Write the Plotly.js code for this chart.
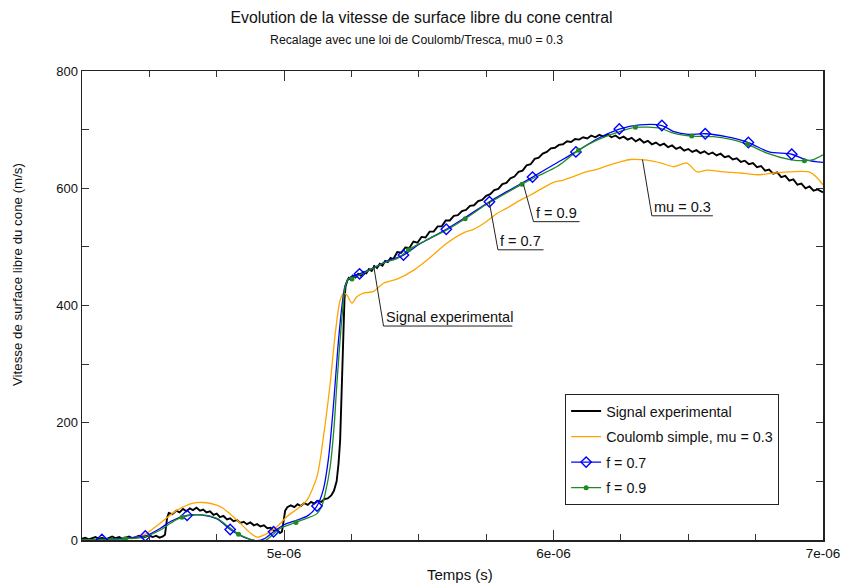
<!DOCTYPE html>
<html>
<head>
<meta charset="utf-8">
<script src="https://cdn.plot.ly/plotly-3.0.1.min.js"></script>
<style>html,body{margin:0;padding:0;background:#fff;}#chart{width:843px;height:584px;}</style>
</head>
<body>
<div id="chart"></div>
<script>
// ---------- DATA (time in microseconds, velocity in m/s) ----------
const exp_t_us = [4.250,4.262,4.275,4.288,4.300,4.312,4.325,4.338,4.350,4.362,4.375,4.388,4.400,4.412,4.425,4.438,4.450,4.462,4.475,4.488,4.500,4.512,4.525,4.538,4.550,
  4.558,4.562,4.566,4.572,4.585,
  4.600,4.612,4.625,4.638,4.650,4.662,4.675,4.688,4.700,4.712,4.725,4.738,4.750,4.762,4.775,4.788,4.800,4.812,4.825,4.838,4.850,4.862,4.875,4.888,4.900,4.912,4.925,4.938,4.950,4.962,4.975,
  4.985,4.992,4.998,5.004,5.012,
  5.025,5.038,5.050,5.062,5.075,5.088,5.100,5.112,5.125,5.138,5.150,5.162,5.175,
  5.185,5.195,5.202,5.208,5.212,5.216,5.220,5.224,5.228,5.234,5.240,5.246,
  5.255,5.265,5.275,5.285,5.295,5.305,5.315,5.325,5.335,5.345,5.355,5.365,5.375,5.385,5.395,5.405,
  5.420,5.435,5.450,5.465,5.480,5.495,5.510,5.525,5.540,5.555,
  5.570,5.585,5.600,5.615,5.630,5.645,5.660,5.675,5.690,5.705,
  5.720,5.735,5.750,5.765,5.780,5.795,5.810,5.825,5.840,5.855,
  5.870,5.885,5.900,5.915,5.930,5.945,5.960,5.975,5.990,6.005,
  6.020,6.035,6.050,6.065,6.080,6.095,6.110,6.125,6.140,6.155,
  6.170,6.185,6.200,6.215,6.230,6.245,6.260,6.275,6.290,6.305,
  6.320,6.335,6.350,6.365,6.380,6.395,6.410,6.425,6.440,6.455,
  6.470,6.485,6.500,6.515,6.530,6.545,6.560,6.575,6.590,6.605,
  6.620,6.635,6.650,6.665,6.680,6.695,6.710,6.725,6.740,6.755,
  6.770,6.785,6.800,6.815,6.830,6.845,6.860,6.875,6.890,6.905,
  6.920,6.935,6.950,6.965,6.980,7.000];
const exp_v = [2,4,1,3,5,2,4,1,3,6,3,5,2,4,6,3,5,7,4,6,8,5,7,4,6,
  9,22,38,46,44,
  50,47,53,49,54,51,55,50,52,47,49,43,45,39,41,35,37,32,34,29,31,27,30,25,27,23,25,20,21,16,17,
  12,14,30,50,56,
  59,56,61,58,63,60,65,62,67,65,70,71,76,
  84,100,130,170,230,300,370,410,432,442,447,445,
  451,448,454,451,457,455,462,459,467,464,471,468,476,474,481,479,
  491,490,499,498,509,507,517,516,526,526,
  535,535,545,545,553,554,561,563,570,571,
  578,580,587,590,597,599,607,609,617,620,
  628,630,639,641,650,652,659,662,668,669,
  674,675,680,679,684,683,687,685,690,687,
  691,688,692,687,690,685,688,683,686,680,
  684,678,681,675,678,673,676,670,673,667,
  670,664,667,662,665,660,663,658,661,656,
  659,653,655,649,651,645,647,641,643,636,
  638,630,632,625,627,619,621,613,615,606,
  608,600,603,596,598,593];

const mu_t_us = [4.25,4.35,4.417,4.477,4.541,4.603,4.663,4.70,4.763,4.825,4.875,4.90,4.936,4.974,5.011,5.06,5.085,5.122,5.146,5.171,5.19,5.208,5.221,5.233,5.252,5.27,5.295,5.332,5.369,5.419,5.48,5.542,5.60,5.666,5.703,5.75,5.79,5.827,5.87,5.913,5.951,6.0,6.037,6.074,6.12,6.161,6.198,6.248,6.285,6.346,6.40,6.445,6.495,6.532,6.569,6.63,6.693,6.755,6.82,6.878,6.953,7.0];
const mu_v = [0,1,3,8,29,51,63,64,57,34,12,5,11,23,40,57,68,108,176,267,353,409,421,418,404,415,421,424,438,445,460,482,505,524,530,543,557,566,578,588,598,610,614,620,628,632,638,645,649,648,643,637,643,628,631,628,626,623,626,628,627,606];

const f07_t_us = [4.25,4.324,4.411,4.485,4.541,4.58,4.64,4.689,4.751,4.80,4.85,4.90,4.93,4.961,5.00,5.048,5.09,5.122,5.145,5.165,5.185,5.20,5.215,5.227,5.245,5.28,5.34,5.382,5.443,5.50,5.53,5.602,5.672,5.762,5.83,5.922,6.00,6.083,6.161,6.244,6.32,6.402,6.45,6.50,6.563,6.64,6.723,6.80,6.884,6.94,7.0];
const f07_v = [0,1,3,7,20,32,42,43,36,18,5,-1,3,14,26,34,42,58,85,140,240,330,400,435,448,454,466,476,486,504,512,530,550,577,595,619,640,662,684,701,708,707,696,692,693,688,678,662,658,648,644];
const f07_mark_t_us = [4.324,4.485,4.640,4.800,4.961,5.122,5.280,5.443,5.602,5.762,5.922,6.083,6.244,6.402,6.563,6.723,6.884];
const f07_mark_v = [1,7,42,18,14,58,454,486,530,577,619,662,701,707,693,678,658];

const f09_t_us = [4.25,4.33,4.411,4.479,4.541,4.58,4.621,4.689,4.751,4.79,4.831,4.87,4.90,4.93,4.96,4.986,5.048,5.09,5.122,5.14,5.153,5.171,5.185,5.196,5.215,5.227,5.239,5.252,5.27,5.295,5.34,5.382,5.419,5.462,5.50,5.53,5.604,5.672,5.746,5.814,5.883,5.938,6.013,6.093,6.161,6.248,6.304,6.397,6.445,6.513,6.594,6.663,6.72,6.792,6.878,6.931,6.965,7.0];
const f09_v = [0,1,2,5,17,29,39,43,37,24,10,2,-2,-1,10,20,31,38,45,58,80,125,190,267,381,432,446,447,450,455,466,475,480,495,505,512,529,548,571,589,607,620,637,665,682,697,704,702,694,689,688,683,675,660,649,647,649,657];
const f09_mark_t_us = [4.411,4.621,4.831,5.044,5.252,5.462,5.672,5.883,6.093,6.304,6.513,6.720,6.931];
const f09_mark_v = [2,39,10,30,445,495,548,607,665,704,689,675,647];

const seriesNames = ['Signal experimental', 'Coulomb simple, mu = 0.3', 'f = 0.7', 'f = 0.9'];
const xTickVals = [5e-6, 6e-6, 7e-6];
const xTickText = ['5e-06', '6e-06', '7e-06'];
const yTickVals = [0, 200, 400, 600, 800];

// ---------- helpers ----------
const s = arr => arr.map(t => t * 1e-6); // microseconds -> seconds

const C_BLACK = '#000000', C_ORANGE = '#FFA500', C_BLUE = '#0000FF', C_GREEN = '#1E8B22';

const traces = [
  {x: s(exp_t_us), y: exp_v, mode: 'lines', name: seriesNames[0], legendgroup: 'g1',
   line: {color: C_BLACK, width: 1.9}},
  {x: s(mu_t_us), y: mu_v, mode: 'lines', name: seriesNames[1], legendgroup: 'g2',
   line: {color: C_ORANGE, width: 1.3, shape: 'spline', smoothing: 0.8}},
  {x: s(f07_t_us), y: f07_v, mode: 'lines', name: seriesNames[2], legendgroup: 'g3', showlegend: false,
   line: {color: C_BLUE, width: 1.3, shape: 'spline', smoothing: 0.8}},
  {x: s(f09_t_us), y: f09_v, mode: 'lines', name: seriesNames[3], legendgroup: 'g4', showlegend: false,
   line: {color: C_GREEN, width: 1.3, shape: 'spline', smoothing: 0.8}},
  {x: s(f07_mark_t_us), y: f07_mark_v, mode: 'markers', name: seriesNames[2], legendgroup: 'g3', showlegend: false,
   marker: {symbol: 'diamond-open', size: 8, color: C_BLUE, line: {width: 1.4, color: C_BLUE}}},
  {x: s(f09_mark_t_us), y: f09_mark_v, mode: 'markers', name: seriesNames[3], legendgroup: 'g4', showlegend: false,
   marker: {symbol: 'circle', size: 5, color: C_GREEN}},
  {x: [null], y: [null], mode: 'lines+markers', name: seriesNames[2], legendgroup: 'g3',
   line: {color: C_BLUE, width: 1.3}, marker: {symbol: 'diamond-open', size: 8, color: C_BLUE, line: {width: 1.4, color: C_BLUE}}},
  {x: [null], y: [null], mode: 'lines+markers', name: seriesNames[3], legendgroup: 'g4',
   line: {color: C_GREEN, width: 1.3}, marker: {symbol: 'circle', size: 5, color: C_GREEN}}
];

// leader-line labels (positions in axis units)
const labels = [
  {text: 'Signal experimental', p0: [5.332e-6, 469], p1: [5.369e-6, 365], p2: [5.847e-6, 365]},
  {text: 'f = 0.7', p0: [5.7613e-6, 577], p1: [5.7936e-6, 495], p2: [5.9628e-6, 495]},
  {text: 'f = 0.9', p0: [5.8886e-6, 606], p1: [5.9257e-6, 543], p2: [6.0964e-6, 543]},
  {text: 'mu = 0.3', p0: [6.330e-6, 649], p1: [6.365e-6, 553], p2: [6.5914e-6, 553]}
];
const shapes = [];
const annotations = [];
labels.forEach(l => {
  shapes.push({type: 'line', xref: 'x', yref: 'y', x0: l.p0[0], y0: l.p0[1], x1: l.p1[0], y1: l.p1[1], line: {color: '#222', width: 1}});
  shapes.push({type: 'line', xref: 'x', yref: 'y', x0: l.p1[0], y0: l.p1[1], x1: l.p2[0], y1: l.p2[1], line: {color: '#222', width: 1}});
  annotations.push({xref: 'x', yref: 'y', x: l.p1[0], y: l.p1[1], xanchor: 'left', yanchor: 'bottom', xshift: 0, yshift: -1,
    text: l.text, showarrow: false, font: {size: 14.5, color: '#111'}});
});
annotations.push({xref: 'paper', yref: 'paper', x: 0.4515, y: 1.066, xanchor: 'center', yanchor: 'middle',
  text: 'Recalage avec une loi de Coulomb/Tresca, mu0 = 0.3', showarrow: false, font: {size: 12.3, color: '#111'}});
annotations.push({xref: 'paper', yref: 'paper', x: 0.5105, y: -0.0725, xanchor: 'center', yanchor: 'middle',
  text: 'Temps (s)', showarrow: false, font: {size: 15, color: '#111'}});
annotations.push({xref: 'paper', yref: 'paper', x: -0.0877, y: 0.565, xanchor: 'center', yanchor: 'middle', textangle: -90,
  text: 'Vitesse de surface libre du cone (m/s)', showarrow: false, font: {size: 13.3, color: '#111'}});

const layout = {
  width: 843, height: 584,
  margin: {l: 82, r: 20, t: 71, b: 44},
  paper_bgcolor: '#fff', plot_bgcolor: '#fff',
  font: {family: '"Liberation Sans", Arial, sans-serif', size: 13, color: '#111'},
  title: {text: 'Evolution de la vitesse de surface libre du cone central', xref: 'container', x: 0.5,
    yref: 'container', y: 1 - 17 / 584, yanchor: 'middle', font: {size: 15.8, color: '#111'}},
  xaxis: {range: [4.25e-6, 7e-6], tickmode: 'array', tickvals: xTickVals, ticktext: xTickText,
    ticks: 'inside', ticklen: 10, tickwidth: 1, tickcolor: '#333',
    showline: true, linecolor: '#222', linewidth: 1.5, mirror: 'ticks', showgrid: false, zeroline: false,
    tickfont: {size: 13.5},
    minor: {tickmode: 'linear', tick0: 4.25e-6, dtick: 0.25e-6, ticks: 'inside', ticklen: 6, tickcolor: '#333', showgrid: false}},
  yaxis: {range: [0, 800], tickmode: 'array', tickvals: yTickVals,
    ticks: 'inside', ticklen: 7, tickwidth: 1, tickcolor: '#333',
    showline: true, linecolor: '#222', linewidth: 1.5, mirror: 'ticks', showgrid: false, zeroline: false,
    tickfont: {size: 13},
    minor: {tickmode: 'linear', tick0: 0, dtick: 100, ticks: 'inside', ticklen: 7, tickcolor: '#333', showgrid: false}},
  legend: {x: 0.652, y: 0.311, xanchor: 'left', yanchor: 'top', bgcolor: '#fff', bordercolor: '#222', borderwidth: 1,
    font: {size: 14.3, color: '#111'}, tracegroupgap: 4, traceorder: 'grouped'},
  shapes: shapes,
  annotations: annotations,
  showlegend: true
};

Plotly.newPlot('chart', traces, layout, {displayModeBar: false, staticPlot: true});
</script>
</body>
</html>
